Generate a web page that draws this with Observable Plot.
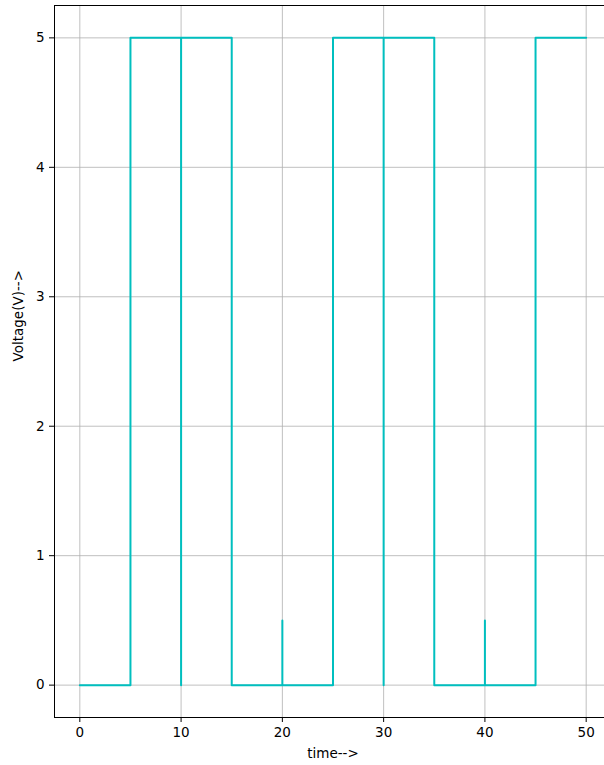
<!DOCTYPE html>
<html>
<head>
<meta charset="utf-8">
<script src="https://cdn.jsdelivr.net/npm/d3@7"></script>
<script src="https://cdn.jsdelivr.net/npm/@observablehq/plot@0.6"></script>
<style>
  html, body { margin: 0; padding: 0; background: white; overflow: hidden; }
  #chart { width: 604px; height: 765px; overflow: hidden; }
</style>
</head>
<body>
<div id="chart"></div>
<script>
const time    = [0, 5, 5, 10, 10, 10, 15, 15, 20, 20, 20, 25, 25, 30, 30, 30, 35, 35, 40, 40, 40, 45, 45, 50];
const voltage = [0, 0, 5, 5, 0, 5, 5, 0, 0, 0.5, 0, 0, 5, 5, 0, 5, 5, 0, 0, 0.5, 0, 0, 5, 5];
const xTicks = [0, 10, 20, 30, 40, 50];
const yTicks = [0, 1, 2, 3, 4, 5];
const xLabel = ["time-->"];
const yLabel = ["Voltage(V)-->"];

const data = time.map((t, i) => ({t, v: voltage[i]}));
const font = "DejaVu Sans, sans-serif";

const chart = Plot.plot({
  width: 604,
  height: 765,
  marginLeft: 54,
  marginRight: -7,
  marginTop: 5,
  marginBottom: 48,
  style: {fontFamily: font, fontSize: "13.5px", color: "#000", background: "white", overflow: "hidden"},
  x: {domain: [-2.5, 52.5]},
  y: {domain: [-0.25, 5.25]},
  marks: [
    Plot.gridX(xTicks, {stroke: "#b0b0b0", strokeOpacity: 1, strokeWidth: 0.8}),
    Plot.gridY(yTicks, {stroke: "#b0b0b0", strokeOpacity: 1, strokeWidth: 0.8}),
    Plot.line(data, {x: "t", y: "v", stroke: "#00bfbf", strokeWidth: 2, curve: "linear"}),
    Plot.frame({anchor: "left", stroke: "#000", strokeWidth: 1}),
    Plot.frame({anchor: "top", stroke: "#000", strokeWidth: 1}),
    Plot.frame({anchor: "bottom", stroke: "#000", strokeWidth: 1}),
    Plot.axisX(xTicks, {tickSize: 5, tickPadding: 5, label: null, tickFormat: d => String(d), fontSize: 13.5, stroke: "#000"}),
    Plot.axisY(yTicks, {tickSize: 5, tickPadding: 5, label: null, tickFormat: d => String(d), fontSize: 13.5, stroke: "#000"}),
    Plot.text(xLabel, {frameAnchor: "bottom", dy: 40, fontSize: 13.5, fill: "#000"}),
    Plot.text(yLabel, {frameAnchor: "left", dx: -36, rotate: -90, fontSize: 13.5, fill: "#000"})
  ]
});
document.getElementById("chart").appendChild(chart);
</script>
</body>
</html>
